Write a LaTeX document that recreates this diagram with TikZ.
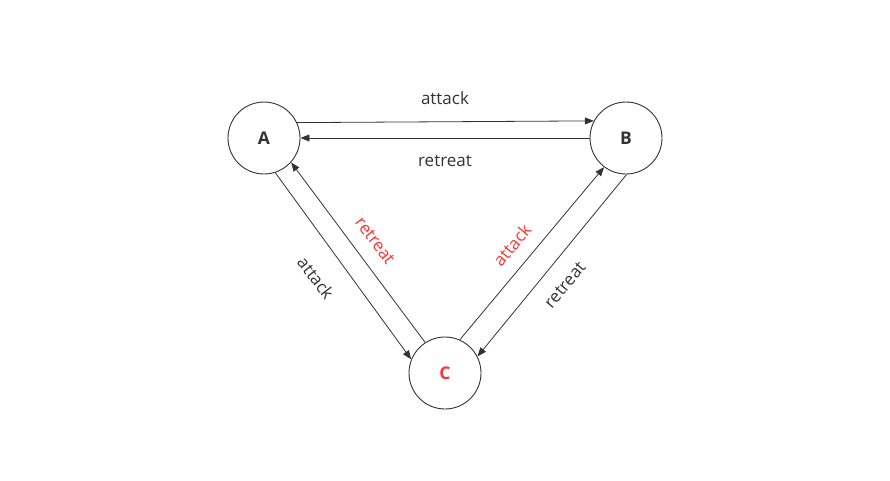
\documentclass[tikz,border=0pt]{standalone}
\usepackage{fontspec}
\setmainfont{Open Sans}
\usetikzlibrary{arrows.meta}
\definecolor{ink}{HTML}{333333}
\definecolor{hot}{HTML}{FF3333}
\begin{document}
\begin{tikzpicture}[x=1pt,y=-1pt,
  state/.style={circle,draw=ink,line width=0.9pt,minimum size=72pt,inner sep=0pt,font=\fontsize{17.5}{20}\selectfont\bfseries,text=ink},
  link/.style={draw=ink,line width=0.8pt,-{Triangle[length=9pt,width=7pt]}},
  lbl/.style={font=\fontsize{17}{20}\selectfont,text=ink,inner sep=0pt},
  redlbl/.style={lbl,text=hot}]
\useasboundingbox (0,0) rectangle (890,480);
\node[state] (A) at (264,138) {A};
\node[state] (B) at (626,138) {B};
\node[state,text=hot] (C) at (445,373) {C};
\draw[link] (A.25) -- (B.152);
\draw[link] (B.180) -- (A.0);
\draw[link] (A.-72) -- (C.158);
\draw[link] (C.123) -- (A.-42);
\draw[link] (C.66) -- (B.233);
\draw[link] (B.-89) -- (C.27);
\node[lbl] (l1) at (445,98) {attack};
\node[lbl] (l2) at (445,161) {retreat};
\node[lbl,rotate=-53] (l3) at (316,278) {attack};
\node[redlbl,rotate=-53] (l4) at (375,241) {retreat};
\node[redlbl,rotate=50] (l5) at (512,245) {attack};
\node[lbl,rotate=50] (l6) at (565,285) {retreat};
\end{tikzpicture}
\end{document}
